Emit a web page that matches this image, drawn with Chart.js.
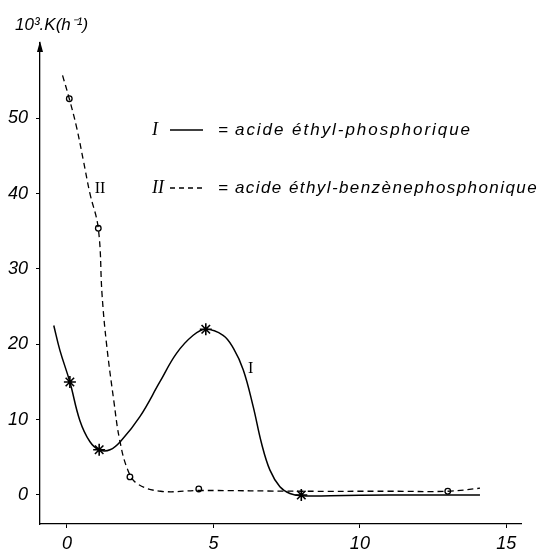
<!DOCTYPE html>
<html>
<head>
<meta charset="utf-8">
<script src="https://cdn.jsdelivr.net/npm/chart.js@4/dist/chart.umd.min.js"></script>
<style>
  html, body { margin: 0; padding: 0; background: #fff; }
  #wrap { width: 541px; height: 551px; position: relative; }
</style>
</head>
<body>
<div id="wrap"><canvas id="chart"></canvas></div>
<script>
// Tick labels
const xTicks = [0, 5, 10, 15];
const yTicks = [0, 10, 20, 30, 40, 50];

// Série I : acide éthyl-phosphorique (points mesurés)
const markI_x = [0.1, 1.1, 4.74, 8];
const markI_y = [15, 6, 22, 0];
// Série II : acide éthyl-benzènephosphonique (points mesurés)
const markII_x = [0.08, 1.07, 2.15, 4.5, 13];
const markII_y = [52.6, 35.4, 2.4, 0.8, 0.5];

// Courbes tracées à la main
const curveI_x = [-0.45, -0.24, 0.1, 0.44, 0.78, 1.1, 1.47, 1.87, 2.49, 3.17, 3.74, 4.31, 4.74, 5.33, 5.68, 6.02, 6.36, 6.64, 6.93, 7.27, 7.61, 8, 9, 11, 14.1];
const curveI_y = [22.5, 19.2, 15.0, 9.9, 7.1, 6.0, 6.0, 7.3, 10.4, 15.0, 18.8, 21.2, 22.0, 21.2, 19.5, 16.6, 11.7, 6.9, 3.3, 1.1, 0.2, -0.1, -0.1, 0, 0];
const curveII_x = [-0.15, 0.08, 0.33, 0.56, 0.78, 1.07, 1.2, 1.35, 1.6, 1.8, 2.08, 2.4, 3.2, 4.5, 8, 11, 13, 14.1];
const curveII_y = [55.7, 52.6, 48.8, 44.4, 40.1, 35.4, 26.5, 20.1, 12.5, 7.3, 3.3, 1.5, 0.5, 0.6, 0.5, 0.5, 0.5, 0.9];

// Étiquettes des courbes
const curveLabels = [
    { text: 'II', x: 1.13, y: 40.6 },
    { text: 'I', x: 6.27, y: 16.7 },
];

const legendRows = [
    { roman: 'I', dash: [], text: '= acide éthyl-phosphorique', y: 130, width: 237 },
    { roman: 'II', dash: [5, 4], text: '= acide éthyl-benzènephosphonique', y: 188, width: 303 },
];

const pts = (xs, ys) => xs.map((x, i) => ({ x, y: ys[i] }));

const TICK_FONT = { family: '"Liberation Sans", sans-serif', size: 18, style: 'italic' };

// dessins additionnels : flèche, titre de l'axe, légende
const decor = {
    id: 'decor',
    afterDraw(chart) {
        const ctx = chart.ctx;
        const { left, top } = chart.chartArea;
        const xs = chart.scales.x, ys = chart.scales.y;
        ctx.save();
        ctx.fillStyle = '#000';
        ctx.strokeStyle = '#000';

        // flèche de l'axe y
        ctx.beginPath();
        ctx.moveTo(left, top - 2);
        ctx.lineTo(left - 3, top + 9);
        ctx.lineTo(left + 3, top + 9);
        ctx.closePath();
        ctx.fill();

        // titre de l'axe
        ctx.font = 'italic 17px "Liberation Sans", sans-serif';
        ctx.textBaseline = 'middle';
        ctx.textAlign = 'left';
        ctx.fillText('10³.K(h⁻¹)', 15, 25);

        // étiquettes I / II sur les courbes
        ctx.font = '16px "Liberation Serif", serif';
        ctx.textAlign = 'center';
        curveLabels.forEach(l => {
            ctx.fillText(l.text, xs.getPixelForValue(l.x), ys.getPixelForValue(l.y));
        });

        // légende
        legendRows.forEach(r => {
            ctx.font = 'italic 18px "Liberation Serif", serif';
            ctx.textAlign = 'left';
            ctx.fillText(r.roman, 152, r.y);
            ctx.lineWidth = 1.3;
            ctx.setLineDash(r.dash);
            ctx.beginPath();
            ctx.moveTo(170, r.y);
            ctx.lineTo(203, r.y);
            ctx.stroke();
            ctx.setLineDash([]);
            ctx.font = 'italic 17px "Liberation Sans", sans-serif';
            const body = r.text.slice(2);
            const w = ctx.measureText(body).width;
            ctx.letterSpacing = Math.max(0, (r.width - w) / body.length).toFixed(2) + 'px';
            ctx.fillText('=', 218, r.y);
            ctx.fillText(body, 235, r.y);
            ctx.letterSpacing = '0px';
        });
        ctx.restore();
    }
};

new Chart(document.getElementById('chart'), {
    type: 'scatter',
    data: {
        datasets: [
            {
                label: 'I courbe',
                data: pts(curveI_x, curveI_y),
                showLine: true,
                borderColor: '#000',
                borderWidth: 1.5,
                pointRadius: 0,
                tension: 0.4,
            },
            {
                label: 'II courbe',
                data: pts(curveII_x, curveII_y),
                showLine: true,
                borderColor: '#000',
                borderWidth: 1.3,
                borderDash: [6, 4],
                pointRadius: 0,
                tension: 0.4,
            },
            {
                label: 'I',
                data: pts(markI_x, markI_y),
                pointStyle: 'star',
                pointRadius: 6,
                borderColor: '#000',
                borderWidth: 1.6,
                backgroundColor: '#000',
            },
            {
                label: 'II',
                data: pts(markII_x, markII_y),
                pointStyle: 'circle',
                pointRadius: 2.8,
                borderColor: '#000',
                borderWidth: 1.3,
                backgroundColor: '#fff',
            },
        ],
    },
    options: {
        responsive: true,
        maintainAspectRatio: false,
        animation: false,
        layout: { padding: { top: 43, right: 20, left: 0, bottom: 0 } },
        plugins: {
            legend: { display: false },
            tooltip: { enabled: false },
        },
        scales: {
            x: {
                type: 'linear',
                min: -0.92,
                max: 15.5,
                afterBuildTicks: s => { s.ticks = xTicks.map(v => ({ value: v })); },
                afterFit: s => { s.height = 27; },
                grid: { drawOnChartArea: false, tickLength: 4, color: '#000' },
                border: { color: '#000', width: 1.3 },
                ticks: { color: '#000', font: TICK_FONT, padding: 5, maxRotation: 0 },
            },
            y: {
                type: 'linear',
                min: -3.85,
                max: 60,
                afterBuildTicks: s => { s.ticks = yTicks.map(v => ({ value: v })); },
                afterFit: s => { s.width = 40; },
                grid: { drawOnChartArea: false, tickLength: 4, color: '#000' },
                border: { color: '#000', width: 1.3 },
                ticks: { color: '#000', font: TICK_FONT, padding: 8 },
            },
        },
    },
    plugins: [decor],
});
</script>
</body>
</html>
